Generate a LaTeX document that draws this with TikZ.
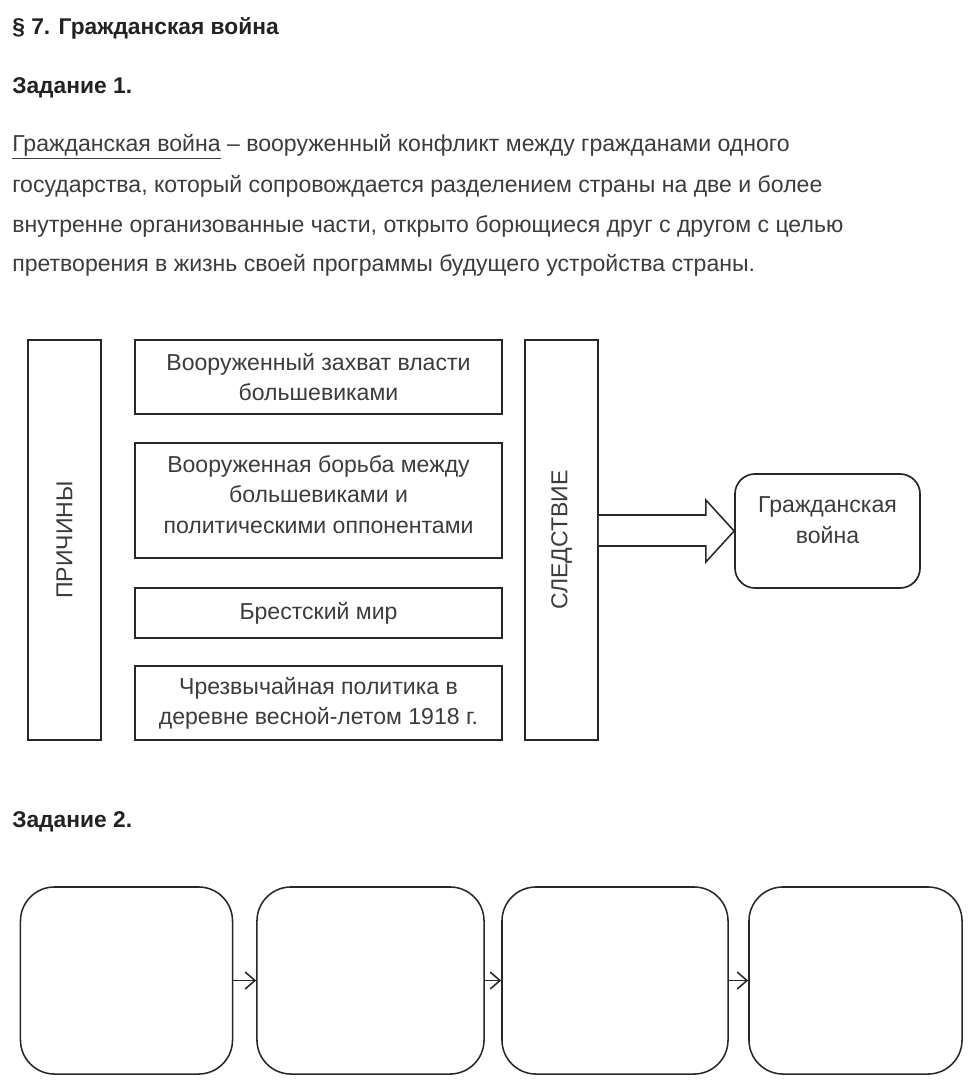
\documentclass[tikz,border=0pt]{standalone}
\usepackage{fontspec}
\setmainfont{Liberation Sans}
\usepackage{tikz}
\usetikzlibrary{arrows.meta, positioning, calc}
\definecolor{mytext}{RGB}{60,60,60}
\definecolor{mydark}{RGB}{34,34,34}
\definecolor{myline}{RGB}{40,40,40}
\tikzset{
  txt/.style={anchor=west, inner sep=0pt, font=\fontsize{16.4}{19}\selectfont, text=mytext},
  head/.style={anchor=west, inner sep=0pt, font=\fontsize{16.2}{19}\selectfont\bfseries, text=mydark},
  causebox/.style={rectangle, draw=myline, line width=1.2pt, minimum width=9.175cm,
    align=center, font=\fontsize{16.4}{21.5}\selectfont, text=mytext, inner sep=0pt},
  sidebox/.style={rectangle, draw=myline, line width=1.2pt, minimum width=1.825cm,
    minimum height=10cm, inner sep=0pt},
  sidelabel/.style={rotate=90, font=\fontsize{16.4}{19}\selectfont, text=mytext},
  roundbox/.style={rectangle, draw=myline, line width=1.2pt, rounded corners=0.5cm,
    align=center, font=\fontsize{16.4}{21.5}\selectfont, text=mytext, inner sep=0pt},
  stepbox/.style={rectangle, draw=myline, line width=1.1pt, rounded corners=0.85cm,
    minimum height=4.675cm, inner sep=0pt},
  bigarrow/.style={draw=myline, line width=1.1pt, fill=white},
  arrow/.style={-{Straight Barb[length=7pt,width=12pt]}, line width=1.1pt, color=myline}
}
\begin{document}
\begin{tikzpicture}[x=0.025cm, y=-0.025cm]
  \useasboundingbox (0,0) rectangle (971,1089);

  % Headings and definition
  \node[head] (title) at (12,28) {§ 7. Гражданская война};
  \node[head] (task1) at (12,88) {Задание 1.};
  \node[txt] (def1) at (12,147) {\underline{Гражданская война} – вооруженный конфликт между гражданами одного};
  \node[txt] (def2) at (12,186) {государства, который сопровождается разделением страны на две и более};
  \node[txt] (def3) at (12,226) {внутренне организованные части, открыто борющиеся друг с другом с целью};
  \node[txt] (def4) at (12,265) {претворения в жизнь своей программы будущего устройства страны.};

  % Causes
  \node[sidebox] (causes) at (64.5,540) {};
  \node[sidelabel] at (causes.center) {ПРИЧИНЫ};
  \node[causebox, minimum height=1.85cm] (seize) at (318.5,377) {Вооруженный захват власти\\большевиками};
  \node[causebox, minimum height=2.875cm, text depth=0.3cm] (fight) at (318.5,500.5) {Вооруженная борьба между\\большевиками и\\политическими оппонентами};
  \node[causebox, minimum height=1.25cm] (brest) at (318.5,613) {Брестский мир};
  \node[causebox, minimum height=1.85cm] (policy) at (318.5,703) {Чрезвычайная политика в\\деревне весной-летом 1918 г.};

  % Consequence
  \node[sidebox] (result) at (561.5,540) {};
  \node[sidelabel] at (result.center) {СЛЕДСТВИЕ};
  \node[roundbox, minimum width=4.625cm, minimum height=2.85cm, text depth=0.55cm] (war) at (827.5,531) {Гражданская\\война};

  % Big arrow
  \coordinate (base) at (result.east |- war.west);
  \draw[bigarrow] ($(base)+(0,-16)$) -- ($(base)+(107,-16)$) -- ($(base)+(107,-31)$)
    -- (war.west) -- ($(base)+(107,31)$) -- ($(base)+(107,15)$) -- ($(base)+(0,15)$);

  % Task 2
  \node[head] (task2) at (12,822) {Задание 2.};
  \node[stepbox, minimum width=5.3cm] (s1) at (126.5,980.5) {};
  \node[stepbox, minimum width=5.675cm] (s2) at (370.5,980.5) {};
  \node[stepbox, minimum width=5.65cm] (s3) at (615,980.5) {};
  \node[stepbox, minimum width=5.325cm] (s4) at (855.5,980.5) {};
  \draw[arrow] (s1.east) -- (s2.west);
  \draw[arrow] (s2.east) -- (s3.west);
  \draw[arrow] (s3.east) -- (s4.west);
\end{tikzpicture}
\end{document}
